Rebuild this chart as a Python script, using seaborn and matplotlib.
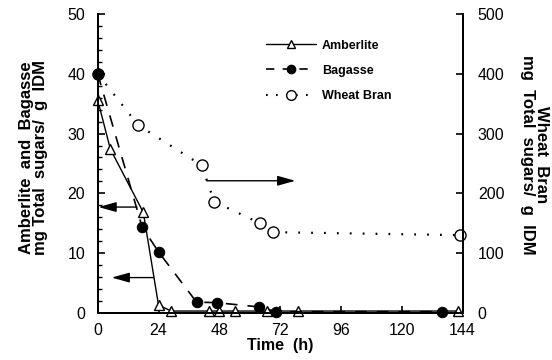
import pandas as pd
import numpy as np
import seaborn as sns
import matplotlib.pyplot as plt
from matplotlib.lines import Line2D
from matplotlib.ticker import MultipleLocator

# Amberlite (left axis)
amb_time = [0, 5, 18, 24, 29, 44, 48, 54, 67, 79, 142]
amb_sugar = [35.6, 27.4, 16.8, 1.3, 0.3, 0.3, 0.3, 0.3, 0.3, 0.3, 0.3]

# Bagasse (left axis)
bag_time = [0, 17.5, 24, 39, 47, 63.5, 70.5, 136]
bag_sugar = [40.0, 14.4, 10.2, 1.8, 1.7, 1.0, 0.2, 0.2]

# Wheat bran (right axis)
wb_time = [0, 16, 41, 46, 64, 69, 143]
wb_sugar = [400, 314, 247, 186, 150, 135, 130]

x_ticks = [0, 24, 48, 72, 96, 120, 144]

# arrows: (start, end) in left-axis units
arrows = [((15.5, 17.7), (0.3, 17.7)),
          ((22, 5.9), (5.5, 5.9)),
          ((43, 22.1), (78, 22.1))]


def main():
    sns.set_style("ticks")
    plt.rcParams['font.family'] = ['Liberation Sans', 'DejaVu Sans']
    for k in ('xtick.color', 'ytick.color', 'text.color', 'axes.labelcolor',
              'axes.edgecolor'):
        plt.rcParams[k] = 'black'

    fig = plt.figure(figsize=(5.52, 3.6), dpi=100)
    ax = fig.add_axes([0.177, 0.131, 0.661, 0.830])
    ax2 = ax.twinx()
    # left-axis series drawn over the wheat bran series
    ax.set_zorder(ax2.get_zorder() + 1)
    ax.patch.set_visible(False)

    amb = pd.DataFrame({'t': amb_time, 'v': amb_sugar})
    bag = pd.DataFrame({'t': bag_time, 'v': bag_sugar})
    wb = pd.DataFrame({'t': wb_time, 'v': wb_sugar})

    sns.lineplot(data=wb, x='t', y='v', ax=ax2, color='black', lw=1.6,
                 linestyle=(0, (0.8, 5)), marker='o', markersize=8,
                 markerfacecolor='white', markeredgecolor='black',
                 markeredgewidth=1.0, estimator=None, sort=False)
    sns.lineplot(data=amb, x='t', y='v', ax=ax, color='black', lw=1.0,
                 marker='^', markersize=7, markerfacecolor='white',
                 markeredgecolor='black', markeredgewidth=1.0,
                 estimator=None, sort=False)
    sns.lineplot(data=bag, x='t', y='v', ax=ax, color='black', lw=1.2,
                 linestyle=(0, (7, 6)), marker='o', markersize=7.5,
                 markerfacecolor='black', markeredgecolor='black',
                 estimator=None, sort=False)
    for line in ax.lines + ax2.lines:
        line.set_clip_on(False)

    for (x0, y0), (x1, y1) in arrows:
        ax.annotate('', xy=(x1, y1), xytext=(x0, y0),
                    arrowprops=dict(arrowstyle='-|>,head_length=0.9,head_width=0.25',
                                    color='black', lw=1.0,
                                    mutation_scale=12, shrinkA=0, shrinkB=0))

    ax.set_xlim(0, 144)
    ax.set_ylim(0, 50)
    ax2.set_ylim(0, 500)
    ax.set_xticks(x_ticks)
    ax.set_yticks(range(0, 51, 10))
    ax.yaxis.set_minor_locator(MultipleLocator(2))
    ax2.set_yticks(range(0, 501, 100))

    for a in (ax, ax2):
        a.spines['top'].set_visible(False)
        a.tick_params(direction='in', labelsize=11.5, length=5, width=1.2)
        for s in a.spines.values():
            s.set_linewidth(1.4)
    ax.tick_params(axis='y', which='minor', direction='in', length=3, width=1)
    ax.tick_params(axis='x', pad=7)
    ax.tick_params(axis='y', pad=9)
    ax2.tick_params(axis='y', pad=11)

    ax.set_xlabel('Time  (h)', fontsize=11.5, fontweight='bold', labelpad=0)
    ax.set_ylabel('Amberlite  and  Bagasse\nmg Total  sugars/  g  IDM',
                  fontsize=12, fontweight='bold', linespacing=0.95)
    ax.yaxis.set_label_coords(-0.135, 0.52)
    ax2.set_ylabel('Wheat  Bran\nmg  Total  sugars/  g  IDM', fontsize=12,
                   fontweight='bold', rotation=270, linespacing=0.95)
    ax2.yaxis.set_label_coords(1.237, 0.53)

    handles = [
        Line2D([], [], color='black', lw=1.0, marker='^', markersize=6,
               markerfacecolor='white'),
        Line2D([], [], color='black', lw=1.2, linestyle=(0, (5, 5)),
               marker='o', markersize=6, markerfacecolor='black'),
        Line2D([], [], color='black', lw=1.5, linestyle=(0, (0.8, 4)),
               marker='o', markersize=7, markerfacecolor='white'),
    ]
    ax.legend(handles, ['Amberlite', 'Bagasse', 'Wheat Bran'],
              loc='upper left', bbox_to_anchor=(0.43, 0.952),
              frameon=False, handlelength=4.0,
              handletextpad=0.5, labelspacing=1.05, numpoints=1,
              prop={'weight': 'bold', 'size': 9})

    fig.savefig('out.png', dpi=100)


if __name__ == '__main__':
    main()
